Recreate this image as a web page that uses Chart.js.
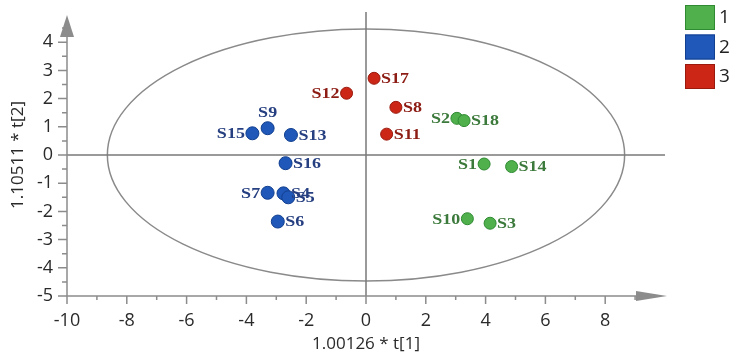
<!DOCTYPE html>
<html>
<head>
<meta charset="utf-8">
<script src="https://cdn.jsdelivr.net/npm/chart.js@4"></script>
<style>
  html, body { margin: 0; padding: 0; background: #fff; }
  #wrap { width: 732px; height: 354px; }
</style>
</head>
<body>
<div id="wrap"><canvas id="pca"></canvas></div>
<script>
// scores
const group1Names = ['S1', 'S14', 'S2', 'S18', 'S10', 'S3'];
const group1X = [3.95, 4.87, 3.04, 3.28, 3.39, 4.15];
const group1Y = [-0.32, -0.41, 1.30, 1.22, -2.26, -2.42];

const group2Names = ['S9', 'S15', 'S13', 'S16', 'S7', 'S4', 'S5', 'S6'];
const group2X = [-3.29, -3.80, -2.51, -2.69, -3.29, -2.76, -2.60, -2.95];
const group2Y = [0.95, 0.77, 0.71, -0.29, -1.34, -1.36, -1.50, -2.36];

const group3Names = ['S17', 'S8', 'S11', 'S12'];
const group3X = [0.27, 1.00, 0.69, -0.65];
const group3Y = [2.72, 1.69, 0.74, 2.19];

const groupLabels = ['1', '2', '3'];
const xTicks = [-10, -8, -6, -4, -2, 0, 2, 4, 6, 8];
const yTicks = [-5, -4, -3, -2, -1, 0, 1, 2, 3, 4];

// which side of the point each name goes
const side1 = ['left', 'right', 'left', 'right', 'left', 'right'];
const side2 = ['top', 'left', 'right', 'right', 'left', 'right', 'right', 'right'];
const side3 = ['right', 'right', 'right', 'left'];

// hotelling ellipse
const ellipseRx = 8.65;
const ellipseRy = 4.47;

const fills = ['#4fb04c', '#1f58b8', '#cc2616'];
const edges = ['#2f8a32', '#123f8f', '#9a1a0e'];
const textCols = ['#3c7a3c', '#263f80', '#8c1c14'];

function pts(xs, ys, names) {
  return xs.map((x, i) => ({ x: x, y: ys[i], name: names[i] }));
}

const sides = [side1, side2, side3];

const axisPlugin = {
  id: 'axisPlugin',
  beforeDatasetsDraw(chart) {
    const ctx = chart.ctx;
    const xs = chart.scales.x, ys = chart.scales.y;
    const a = chart.chartArea;
    const x0 = xs.getPixelForValue(0), y0 = ys.getPixelForValue(0);
    const left = xs.getPixelForValue(-10), bottom = ys.getPixelForValue(-5);
    ctx.save();
    // ellipse
    ctx.strokeStyle = '#8a8a8a';
    ctx.lineWidth = 1.5;
    ctx.beginPath();
    ctx.ellipse(x0, y0, xs.getPixelForValue(ellipseRx) - x0, y0 - ys.getPixelForValue(ellipseRy), 0, 0, Math.PI * 2);
    ctx.stroke();
    // zero lines
    ctx.strokeStyle = '#7a7a7a';
    ctx.lineWidth = 1.5;
    ctx.beginPath();
    ctx.moveTo(left, y0); ctx.lineTo(a.right, y0);
    ctx.moveTo(x0, a.top - 2); ctx.lineTo(x0, bottom);
    ctx.stroke();
    // axes
    ctx.strokeStyle = '#8c8c8c';
    ctx.fillStyle = '#8c8c8c';
    ctx.lineWidth = 1.5;
    ctx.beginPath();
    ctx.moveTo(left, bottom); ctx.lineTo(a.right - 28, bottom);
    ctx.moveTo(left, bottom); ctx.lineTo(left, a.top + 22);
    for (let v = -10; v <= 9; v++) {
      const px = xs.getPixelForValue(v);
      ctx.moveTo(px, bottom); ctx.lineTo(px, bottom + (v % 2 === 0 ? 8 : 4));
    }
    for (let v = -5; v <= 4.5; v += 0.5) {
      const py = ys.getPixelForValue(v);
      ctx.moveTo(left, py); ctx.lineTo(left - (Number.isInteger(v) ? 9 : 5), py);
    }
    ctx.stroke();
    // arrows
    ctx.beginPath();
    ctx.moveTo(a.right + 2, bottom);
    ctx.lineTo(a.right - 29, bottom - 5);
    ctx.lineTo(a.right - 29, bottom + 5);
    ctx.closePath();
    ctx.fill();
    ctx.beginPath();
    ctx.moveTo(left, a.top + 1);
    ctx.lineTo(left - 7, a.top + 23);
    ctx.lineTo(left + 7, a.top + 23);
    ctx.closePath();
    ctx.fill();
    ctx.restore();
  },
  afterDatasetsDraw(chart) {
    const ctx = chart.ctx;
    ctx.save();
    ctx.font = 'bold 15px "Liberation Serif", "DejaVu Serif", serif';
    ctx.textBaseline = 'middle';
    chart.data.datasets.forEach((ds, di) => {
      const meta = chart.getDatasetMeta(di);
      ctx.fillStyle = textCols[di];
      meta.data.forEach((el, i) => {
        const s = sides[di][i];
        const name = ds.data[i].name;
        const r = ds.pointRadius + 1;
        ctx.save();
        if (s === 'left') {
          ctx.translate(el.x - r, el.y + 1);
          ctx.scale(1.2, 1);
          ctx.textAlign = 'right';
          ctx.fillText(name, 0, 0);
        } else if (s === 'right') {
          ctx.translate(el.x + r, el.y + 1);
          ctx.scale(1.2, 1);
          ctx.textAlign = 'left';
          ctx.fillText(name, 0, 0);
        } else {
          ctx.translate(el.x, el.y - r - 8);
          ctx.scale(1.2, 1);
          ctx.textAlign = 'center';
          ctx.fillText(name, 0, 0);
        }
        ctx.restore();
      });
    });
    // legend boxes
    ctx.font = '19px "Open Sans", "DejaVu Sans", sans-serif';
    ctx.textAlign = 'left';
    groupLabels.forEach((lab, i) => {
      const top = 5 + i * 29.5;
      ctx.fillStyle = fills[i];
      ctx.fillRect(685, top, 30, 25);
      ctx.strokeStyle = edges[i];
      ctx.lineWidth = 1;
      ctx.strokeRect(685.5, top + 0.5, 29, 24);
      ctx.fillStyle = '#222';
      ctx.fillText(lab, 719, top + 13);
    });
    ctx.restore();
  }
};

function makeSet(i, names, xs, ys, r) {
  return {
    label: groupLabels[i],
    data: pts(xs, ys, names),
    backgroundColor: fills[i],
    borderColor: edges[i],
    borderWidth: 1,
    pointRadius: r,
    pointHoverRadius: r
  };
}

new Chart(document.getElementById('pca'), {
  type: 'scatter',
  data: {
    datasets: [
      makeSet(0, group1Names, group1X, group1Y, 6),
      makeSet(1, group2Names, group2X, group2Y, 6.5),
      makeSet(2, group3Names, group3X, group3Y, 6)
    ]
  },
  options: {
    responsive: true,
    maintainAspectRatio: false,
    animation: false,
    layout: { padding: { top: 14, right: 67, left: 0, bottom: 0 } },
    plugins: { legend: { display: false }, tooltip: { enabled: false } },
    scales: {
      x: {
        type: 'linear', min: -10, max: 10,
        afterBuildTicks: (s) => { s.ticks = xTicks.map(v => ({ value: v })); },
        afterFit: (s) => { s.height = 58; s.paddingLeft = 0; s.paddingRight = 0; },
        grid: { display: false, drawTicks: false },
        border: { display: false },
        ticks: { padding: 14, color: '#2a2a2a', font: { family: '"Open Sans", sans-serif', size: 18 } },
        title: { display: true, text: '1.00126 * t[1]', color: '#2a2a2a', padding: { top: 0, bottom: 0 }, font: { family: '"Open Sans", sans-serif', size: 17 } }
      },
      y: {
        type: 'linear', min: -5, max: 5,
        afterBuildTicks: (s) => { s.ticks = yTicks.map(v => ({ value: v })); },
        afterFit: (s) => { s.width = 67; s.paddingTop = 0; s.paddingBottom = 0; },
        grid: { display: false, drawTicks: false },
        border: { display: false },
        ticks: { padding: 14, color: '#2a2a2a', font: { family: '"Open Sans", sans-serif', size: 18 } },
        title: { display: true, text: '1.10511 * t[2]', color: '#2a2a2a', padding: { top: 8, bottom: 0 }, font: { family: '"Open Sans", sans-serif', size: 17 } }
      }
    }
  },
  plugins: [axisPlugin]
});
</script>
</body>
</html>
